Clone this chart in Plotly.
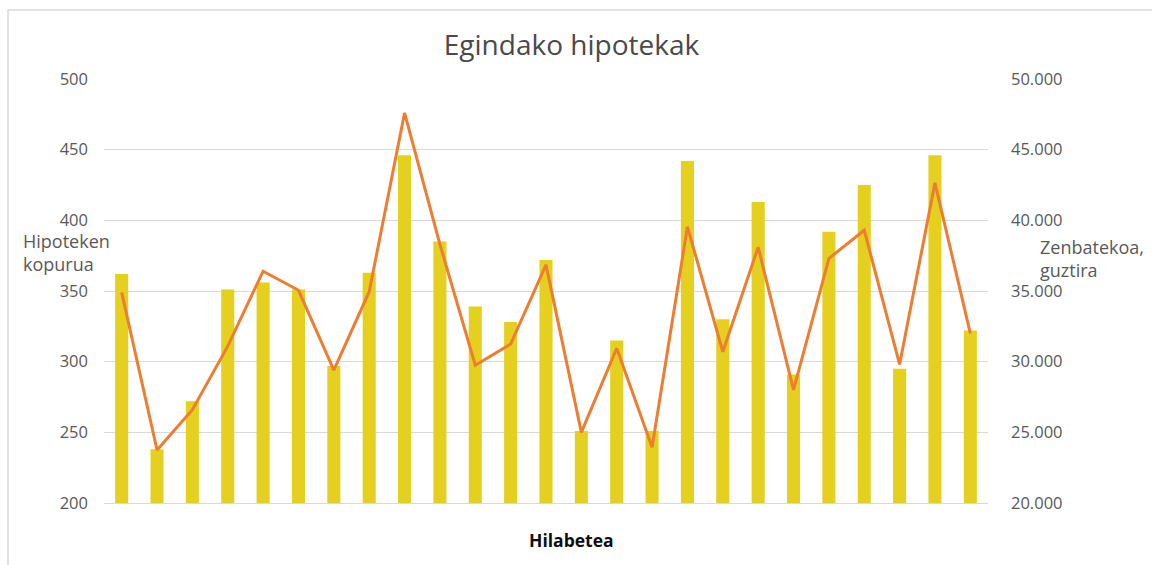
import plotly.graph_objects as go

months = ["1", "2", "3", "4", "5", "6", "7", "8", "9", "10", "11", "12", "13",
          "14", "15", "16", "17", "18", "19", "20", "21", "22", "23", "24", "25"]
hipoteken_kopurua = [362, 238, 272, 351, 356, 351, 297, 363, 446, 385, 339, 328, 372,
                     251, 315, 251, 442, 330, 413, 291, 392, 425, 295, 446, 322]
zenbatekoa = [34900, 23750, 26600, 31100, 36400, 35050, 29400, 34950, 47600, 38300,
              29750, 31250, 36850, 25000, 30950, 23950, 39550, 30700, 38100, 28000,
              37300, 39300, 29800, 42650, 32000]

left_ticks = [200, 250, 300, 350, 400, 450, 500]
right_ticks = [20000, 25000, 30000, 35000, 40000, 45000, 50000]

W, H = 1152, 565
L, R, T, B = 104, 988, 79, 503

def px(x):
    return (x - L) / (R - L)

def py(y):
    return (B - y) / (B - T)

FONT = "Open Sans"
GREY = "#595959"

fig = go.Figure()
fig.add_trace(go.Bar(x=months, y=hipoteken_kopurua, marker_color="#E5D020",
                     marker_line_width=0, name="Hipoteken kopurua"))
fig.add_trace(go.Scatter(x=months, y=zenbatekoa, yaxis="y2", mode="lines",
                         line=dict(color="#ED7D31", width=3), name="Zenbatekoa, guztira"))

fig.update_layout(
    width=W, height=H,
    margin=dict(l=L, r=W - R, t=T, b=H - B, pad=0),
    paper_bgcolor="white", plot_bgcolor="white",
    separators=",.",
    showlegend=False,
    bargap=0.63,
    font=dict(family=FONT, size=16, color=GREY),
    title=dict(text="Egindako hipotekak", x=px(571.5), xanchor="center", xref="paper",
               y=1 - 45 / H, yanchor="middle",
               font=dict(family=FONT, size=28, color="#4a4a4a")),
    xaxis=dict(showticklabels=False, ticks="", showgrid=False, showline=True,
               linecolor="#d9d9d9", linewidth=1, range=[-0.5, 24.5], zeroline=False),
    yaxis=dict(range=[200, 500], tickvals=left_ticks, showgrid=True, gridcolor="#d9d9d9",
               gridwidth=1, zeroline=False, ticks="", ticklabelstandoff=15,
               tickfont=dict(family=FONT, size=16.5, color=GREY)),
    yaxis2=dict(range=[20000, 50000], tickvals=right_ticks, tickformat=",", overlaying="y",
                side="right", showgrid=False, zeroline=False, ticks="", ticklabelstandoff=22,
                tickfont=dict(family=FONT, size=16.5, color=GREY)),
    annotations=[
        dict(text="Hipoteken<br>kopurua", xref="paper", yref="paper", x=px(21), y=py(253),
             xanchor="left", yanchor="middle", align="left", showarrow=False,
             font=dict(family=FONT, size=18, color=GREY)),
        dict(text="Zenbatekoa,<br>guztira", xref="paper", yref="paper", x=px(1038), y=py(258),
             xanchor="left", yanchor="middle", align="left", showarrow=False,
             font=dict(family=FONT, size=18, color=GREY)),
        dict(text="<b>Hilabetea</b>", xref="paper", yref="paper", x=px(571), y=py(540),
             xanchor="center", yanchor="middle", showarrow=False,
             font=dict(family=FONT, size=17.5, color="#0d0d0d")),
    ],
    shapes=[
        dict(type="rect", xref="paper", yref="paper", x0=px(8), x1=px(1170), y0=py(580),
             y1=py(10), line=dict(color="#d9d9d9", width=1.5), fillcolor="rgba(0,0,0,0)",
             layer="below"),
    ],
)

fig.write_html("out.html", config={"displayModeBar": False},
               post_script="document.body.style.margin='0';")
